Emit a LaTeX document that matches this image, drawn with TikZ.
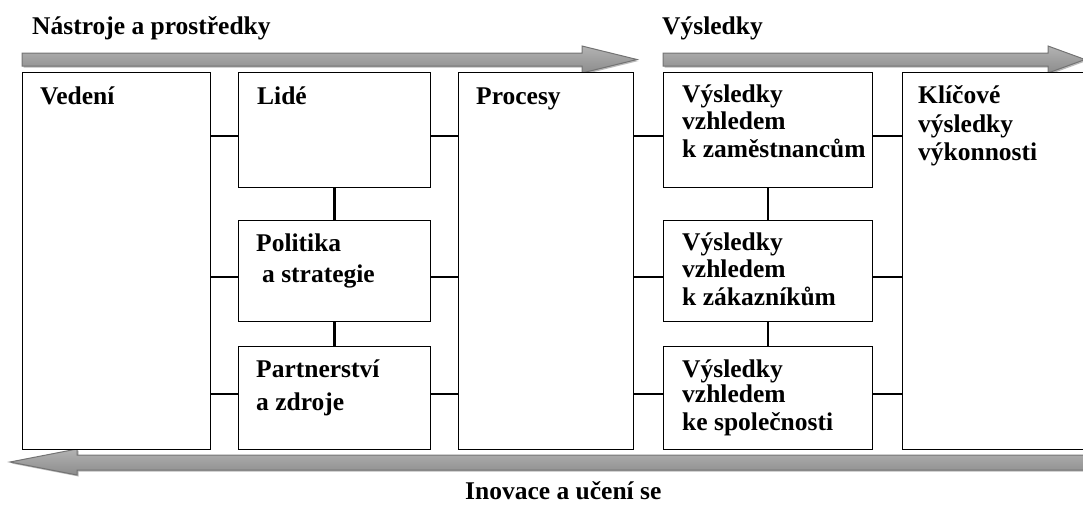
\documentclass[tikz,border=0pt]{standalone}
\usepackage{fontspec}
\setmainfont{Liberation Serif}
\usetikzlibrary{shadows}
\begin{document}
\begin{tikzpicture}[x=1pt,y=-1pt,
  box/.style={draw=black,line width=1.3pt,fill=white,inner sep=0pt,anchor=north west},
  lbl/.style={anchor=base west,inner sep=0pt,font=\fontsize{25.5}{28}\selectfont\bfseries},
  link/.style={line width=2.4pt},
  band/.style={draw=black!55,line width=1pt,top color=black!30,middle color=white,bottom color=black!45,
    drop shadow={shadow xshift=1.5pt,shadow yshift=-1.5pt,fill=black!45,opacity=.6}}]
\useasboundingbox (0,0) rectangle (1083,506);
\clip (0,0) rectangle (1083,506);

% broad arrows
\path[band] (22,53) -- (582,53) -- (582,46) -- (637,59.5) -- (582,73) -- (582,66) -- (22,66) -- cycle;
\path[band] (663,53) -- (1048,53) -- (1048,46) -- (1085,59.5) -- (1048,73) -- (1048,66) -- (663,66) -- cycle;
\path[band] (10,462) -- (77,449) -- (77,455) -- (1100,455) -- (1100,470) -- (77,470) -- (77,475) -- cycle;

% boxes
\node[box,minimum width=188pt,minimum height=377pt] (vedeni) at (22,72) {};
\node[box,minimum width=192pt,minimum height=115pt] (lide) at (238,72) {};
\node[box,minimum width=192pt,minimum height=101pt] (politika) at (238,220) {};
\node[box,minimum width=192pt,minimum height=103pt] (partner) at (238,346) {};
\node[box,minimum width=175pt,minimum height=377pt] (procesy) at (458,72) {};
\node[box,minimum width=209pt,minimum height=115pt] (vys1) at (663,72) {};
\node[box,minimum width=209pt,minimum height=101pt] (vys2) at (663,220) {};
\node[box,minimum width=209pt,minimum height=103pt] (vys3) at (663,346) {};
\node[box,minimum width=210pt,minimum height=377pt] (klic) at (902,72) {};

% connector rows
\coordinate (r1) at (0,136);
\coordinate (r2) at (0,277);
\coordinate (r3) at (0,394);

\draw[link] (vedeni.east |- r1) -- (lide.west |- r1);
\draw[link] (vedeni.east |- r2) -- (politika.west |- r2);
\draw[link] (vedeni.east |- r3) -- (partner.west |- r3);
\draw[link] (lide.east |- r1) -- (procesy.west |- r1);
\draw[link] (politika.east |- r2) -- (procesy.west |- r2);
\draw[link] (partner.east |- r3) -- (procesy.west |- r3);
\draw[link] (procesy.east |- r1) -- (vys1.west |- r1);
\draw[link] (procesy.east |- r2) -- (vys2.west |- r2);
\draw[link] (procesy.east |- r3) -- (vys3.west |- r3);
\draw[link] (vys1.east |- r1) -- (klic.west |- r1);
\draw[link] (vys2.east |- r2) -- (klic.west |- r2);
\draw[link] (vys3.east |- r3) -- (klic.west |- r3);
\draw[link] (lide.south) -- (politika.north);
\draw[link] (politika.south) -- (partner.north);
\draw[link] (vys1.south) -- (vys2.north);
\draw[link] (vys2.south) -- (vys3.north);

% headings
\node[lbl] (hTools) at (32,34) {Nástroje a prostředky};
\node[lbl] (hRes) at (662,34) {Výsledky};
\node[lbl] (hInno) at (465,499) {Inovace a učení se};

% box texts
\node[lbl] (tVed) at (40,104) {Vedení};
\node[lbl] (tLid) at (257,104) {Lidé};
\node[lbl] (tPro) at (476,104) {Procesy};
\node[lbl] (tPol1) at (256,251) {Politika};
\node[lbl] (tPol2) at (262,282) {a strategie};
\node[lbl] (tPar1) at (256,377) {Partnerství};
\node[lbl] (tPar2) at (256,410) {a zdroje};
\node[lbl] (tV11) at (682,102) {Výsledky};
\node[lbl] (tV12) at (682,129) {vzhledem};
\node[lbl] (tV13) at (682,157) {k zaměstnancům};
\node[lbl] (tV21) at (682,250) {Výsledky};
\node[lbl] (tV22) at (682,277) {vzhledem};
\node[lbl] (tV23) at (682,305) {k zákazníkům};
\node[lbl] (tV31) at (682,377) {Výsledky};
\node[lbl] (tV32) at (682,402) {vzhledem};
\node[lbl] (tV33) at (682,430) {ke společnosti};
\node[lbl] (tK1) at (918,103) {Klíčové};
\node[lbl] (tK2) at (918,132) {výsledky};
\node[lbl] (tK3) at (918,160) {výkonnosti};
\end{tikzpicture}
\end{document}
